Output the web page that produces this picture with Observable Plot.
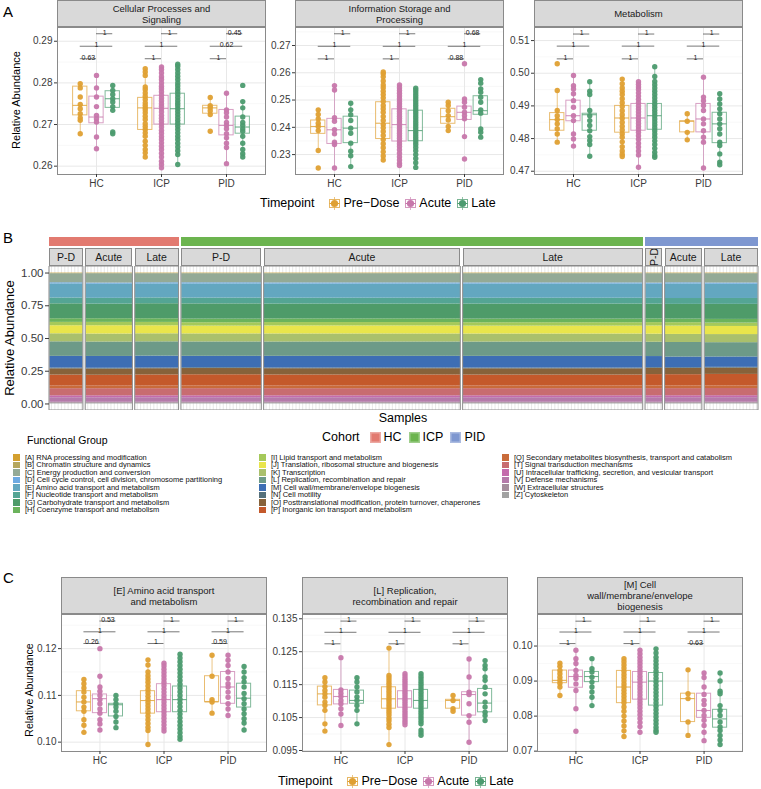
<!DOCTYPE html>
<html><head><meta charset="utf-8">
<script src="https://cdn.jsdelivr.net/npm/d3@7"></script>
<script src="https://cdn.jsdelivr.net/npm/@observablehq/plot@0.6"></script>
<style>
body{margin:0;background:#fff;font-family:"Liberation Sans",Arial,sans-serif;}
#root{position:relative;width:761px;height:789px;overflow:hidden;background:#fff;}
</style></head>
<body><div id="root"></div>
<script>
// ---------------- DATA ----------------
const cohorts = ["HC", "ICP", "PID"];
const timepoints = ["Pre\u2212Dose", "Acute", "Late"];
const timepointColors = ["#DFA033", "#C777AB", "#4C9B6F"];
const cohortColors = ["#E27A70", "#6CB44F", "#7E97D0"];

// Panel A
const titleA = [["Cellular Processes and", "Signaling"], ["Information Storage and", "Processing"], ["Metabolism"]];
// [lower whisker, Q1, median, Q3, upper whisker] in order HC(PD,Ac,La), ICP(...), PID(...)
const boxA1 = [[0.2678,0.2722,0.2746,0.2791,0.2799],[0.2642,0.2703,0.2718,0.2767,0.2818],[0.2734,0.2740,0.2762,0.2780,0.2794],
  [0.2622,0.2687,0.2740,0.2764,0.2834],[0.2596,0.2700,0.2739,0.2769,0.2842],[0.2604,0.2700,0.2738,0.2774,0.2847],
  [0.2722,0.2726,0.2740,0.2745,0.2766],[0.2606,0.2674,0.2698,0.2735,0.2775],[0.2622,0.2678,0.2694,0.2719,0.2758]];
const pointsA1 = [
  [0.2798,0.2788,0.2766,0.2748,0.2738,0.2726,0.2716,0.2710,0.2678],
  [0.2818,0.2788,0.2766,0.2743,0.2722,0.2714,0.2706,0.2670,0.2642],
  [0.2794,0.2782,0.2772,0.2762,0.2754,0.2743,0.2734,0.2682,0.2678],
  [0.2834,0.2826,0.2818,0.2790,0.2784,0.2776,0.2768,0.2760,0.2752,0.2746,0.2740,0.2735,0.2728,0.2720,0.2712,0.2702,0.2695,0.2688,0.2680,0.2672,0.2660,0.2650,0.2640,0.2632,0.2622],
  [0.2838,0.2832,0.2824,0.2815,0.2808,0.2800,0.2792,0.2786,0.2779,0.2771,0.2764,0.2757,0.2750,0.2744,0.2737,0.2730,0.2722,0.2715,0.2708,0.2701,0.2694,0.2686,0.2679,0.2671,0.2664,0.2656,0.2648,0.2640,0.2631,0.2622,0.2612,0.2604,0.2596],
  [0.2845,0.2840,0.2832,0.2824,0.2816,0.2808,0.2800,0.2793,0.2786,0.2779,0.2772,0.2765,0.2758,0.2751,0.2745,0.2738,0.2731,0.2724,0.2717,0.2710,0.2703,0.2696,0.2688,0.2680,0.2672,0.2664,0.2655,0.2646,0.2637,0.2628,0.2604],
  [0.2765,0.2745,0.2740,0.2733,0.2724,0.2684],
  [0.2775,0.2735,0.2728,0.2718,0.2705,0.2698,0.2690,0.2678,0.2668,0.2655,0.2645,0.2606],
  [0.2794,0.2755,0.2740,0.2718,0.2705,0.2698,0.2690,0.2684,0.2672,0.2655,0.2640,0.2630,0.2622]];
const bracketYA1 = [0.2858, 0.2888, 0.2918];
const bracketLabA1 = ["0.63","1","1","1","1","1","1","0.62","0.45"];
const yDomainA1 = [0.258, 0.2933];
const ticksA1 = [0.26,0.27,0.28,0.29];
const minorA1 = [0.265,0.275,0.285];

const boxA2 = [[0.2315,0.2376,0.2403,0.2425,0.2464],[0.2251,0.2339,0.2391,0.2431,0.2553],[0.2256,0.2342,0.2397,0.2439,0.2488],
  [0.2278,0.2357,0.2415,0.2492,0.2605],[0.2260,0.2348,0.2410,0.2466,0.2557],[0.2253,0.2349,0.2388,0.2461,0.2545],
  [0.2388,0.2413,0.2439,0.2468,0.2492],[0.2364,0.2427,0.2455,0.2476,0.2504],[0.2364,0.2446,0.2461,0.2514,0.2575]];
const pointsA2 = [
  [0.2464,0.2447,0.2431,0.2415,0.2403,0.2388,0.2315,0.2251],
  [0.2553,0.2537,0.2435,0.2422,0.2391,0.2376,0.2345,0.2337,0.2251],
  [0.2488,0.2464,0.2446,0.2425,0.2397,0.2378,0.2342,0.2312,0.2296,0.2256],
  [0.2603,0.2596,0.2585,0.2570,0.2555,0.2545,0.2532,0.2520,0.2508,0.2495,0.2480,0.2468,0.2455,0.2440,0.2425,0.2410,0.2398,0.2385,0.2370,0.2355,0.2340,0.2325,0.2310,0.2295,0.2280],
  [0.2555,0.2545,0.2535,0.2525,0.2515,0.2505,0.2495,0.2486,0.2477,0.2468,0.2459,0.2450,0.2441,0.2432,0.2423,0.2414,0.2405,0.2396,0.2387,0.2378,0.2369,0.2360,0.2350,0.2340,0.2330,0.2318,0.2305,0.2292,0.2280,0.2268,0.2260],
  [0.2543,0.2535,0.2526,0.2517,0.2508,0.2499,0.2490,0.2481,0.2472,0.2463,0.2454,0.2445,0.2436,0.2427,0.2418,0.2409,0.2400,0.2391,0.2382,0.2373,0.2364,0.2355,0.2346,0.2337,0.2326,0.2314,0.2300,0.2286,0.2270,0.2253],
  [0.2492,0.2480,0.2461,0.2443,0.2427,0.2403,0.2388],
  [0.2633,0.2504,0.2492,0.2474,0.2455,0.2443,0.2431,0.2366,0.2284],
  [0.2575,0.2562,0.2541,0.2529,0.2510,0.2492,0.2464,0.2452,0.2394,0.2382,0.2364]];
const bracketYA2 = [0.2651, 0.2697, 0.2743];
const bracketLabA2 = ["1","1","1","1","1","1","0.88","1","0.68"];
const yDomainA2 = [0.2227, 0.2766];
const ticksA2 = [0.23,0.24,0.25,0.26,0.27];
const minorA2 = [0.225,0.235,0.245,0.255,0.265,0.275];

const boxA3 = [[0.4789,0.4824,0.4858,0.4878,0.4947],[0.4777,0.4853,0.4870,0.4916,0.4993],[0.4746,0.4824,0.4873,0.4876,0.4974],
  [0.4745,0.4818,0.4863,0.4900,0.4983],[0.4712,0.4824,0.4863,0.4906,0.4974],[0.4743,0.4827,0.4870,0.4906,0.5021],
  [0.4796,0.4819,0.4853,0.4853,0.4876],[0.4710,0.4819,0.4860,0.4906,0.4988],[0.4722,0.4786,0.4845,0.4879,0.4937]];
const pointsA3 = [
  [0.5029,0.4947,0.4886,0.4870,0.4858,0.4845,0.4830,0.4814,0.4789],
  [0.4993,0.4962,0.4952,0.4937,0.4916,0.4896,0.4870,0.4855,0.4814,0.4799,0.4777],
  [0.4974,0.4945,0.4935,0.4886,0.4870,0.4855,0.4840,0.4824,0.4806,0.4794,0.4782,0.4746],
  [0.4982,0.4968,0.4955,0.4945,0.4935,0.4922,0.4910,0.4898,0.4885,0.4873,0.4862,0.4850,0.4838,0.4826,0.4815,0.4804,0.4790,0.4775,0.4762,0.4752,0.4745],
  [0.4974,0.4966,0.4958,0.4950,0.4940,0.4930,0.4920,0.4910,0.4900,0.4891,0.4882,0.4873,0.4864,0.4855,0.4846,0.4837,0.4828,0.4819,0.4809,0.4798,0.4786,0.4774,0.4762,0.4750,0.4712],
  [0.5020,0.4990,0.4975,0.4965,0.4955,0.4945,0.4935,0.4925,0.4915,0.4905,0.4896,0.4887,0.4878,0.4869,0.4860,0.4851,0.4842,0.4833,0.4824,0.4814,0.4804,0.4793,0.4782,0.4770,0.4758,0.4748,0.4743],
  [0.4876,0.4853,0.4819,0.4796],
  [0.4988,0.4927,0.4916,0.4901,0.4886,0.4860,0.4845,0.4824,0.4804,0.4789,0.4710],
  [0.4937,0.4921,0.4906,0.4891,0.4876,0.4860,0.4845,0.4830,0.4814,0.4789,0.4779,0.4753,0.4728,0.4720]];
const bracketYA3 = [0.5044, 0.5083, 0.5120];
const bracketLabA3 = ["1","1","1","1","1","1","1","1","1"];
const yDomainA3 = [0.469, 0.514];
const ticksA3 = [0.47,0.48,0.49,0.50,0.51];
const minorA3 = [0.475,0.485,0.495,0.505];

// Panel C
const titleC = [["[E] Amino acid transport", "and metabolism"], ["[L] Replication,", "recombination and repair"], ["[M] Cell", "wall/membrane/envelope", "biogenesis"]];
const boxC1 = [[0.1021,0.1066,0.1086,0.1109,0.1134],[0.1026,0.1062,0.1093,0.1102,0.1141],[0.1031,0.1055,0.1080,0.1082,0.1100],
  [0.0995,0.1061,0.1089,0.1109,0.1176],[0.1021,0.1064,0.1091,0.1124,0.1169],[0.1005,0.1064,0.1091,0.1119,0.1188],
  [0.1062,0.1086,0.1086,0.1141,0.1186],[0.1057,0.1082,0.1118,0.1150,0.1186],[0.1026,0.1074,0.1094,0.1125,0.1162]];
const pointsC1 = [
  [0.1134,0.1125,0.1116,0.1107,0.1096,0.1086,0.1075,0.1066,0.1048,0.1036,0.1021],
  [0.1200,0.1141,0.1118,0.1109,0.1100,0.1091,0.1082,0.1071,0.1062,0.1048,0.1039,0.1026],
  [0.1100,0.1091,0.1082,0.1075,0.1066,0.1055,0.1043,0.1031],
  [0.1176,0.1165,0.1150,0.1142,0.1135,0.1128,0.1120,0.1112,0.1105,0.1098,0.1091,0.1085,0.1078,0.1071,0.1064,0.1056,0.1048,0.1040,0.1032,0.1025,0.0995],
  [0.1169,0.1163,0.1156,0.1149,0.1142,0.1135,0.1128,0.1121,0.1114,0.1107,0.1100,0.1093,0.1086,0.1079,0.1072,0.1065,0.1058,0.1051,0.1044,0.1037,0.1030,0.1024],
  [0.1188,0.1180,0.1172,0.1164,0.1156,0.1148,0.1140,0.1132,0.1124,0.1116,0.1108,0.1100,0.1092,0.1084,0.1076,0.1068,0.1060,0.1052,0.1044,0.1036,0.1028,0.1020,0.1012,0.1006],
  [0.1186,0.1141,0.1091,0.1086,0.1062],
  [0.1186,0.1175,0.1164,0.1150,0.1136,0.1125,0.1118,0.1107,0.1096,0.1082,0.1071,0.1057],
  [0.1162,0.1150,0.1138,0.1129,0.1118,0.1104,0.1093,0.1082,0.1071,0.1061,0.1050,0.1041,0.1026]];
const bracketYC1 = [0.1211, 0.1236, 0.1259];
const bracketLabC1 = ["0.26","1","0.53","1","1","1","0.59","1","1"];
const yDomainC1 = [0.098, 0.1273];
const ticksC1 = [0.10,0.11,0.12];
const minorC1 = [0.105,0.115,0.125];

const boxC2 = [[0.1009,0.1087,0.1122,0.1144,0.1171],[0.1026,0.1090,0.1114,0.1134,0.1232],[0.1031,0.1092,0.1102,0.1132,0.1171],
  [0.0968,0.1077,0.1107,0.1142,0.1261],[0.1026,0.1080,0.1107,0.1130,0.1183],[0.0996,0.1077,0.1102,0.1134,0.1183],
  [0.1069,0.1077,0.1102,0.1104,0.1117],[0.0975,0.1056,0.1120,0.1127,0.1228],[0.1041,0.1066,0.1094,0.1137,0.1223]];
const pointsC2 = [
  [0.1171,0.1158,0.1144,0.1132,0.1122,0.1112,0.1097,0.1087,0.1072,0.1031,0.1009],
  [0.1232,0.1134,0.1124,0.1114,0.1102,0.1092,0.1077,0.1061,0.1026],
  [0.1171,0.1158,0.1143,0.1128,0.1113,0.1102,0.1087,0.1072,0.1031],
  [0.1261,0.1178,0.1170,0.1162,0.1154,0.1146,0.1138,0.1130,0.1122,0.1114,0.1106,0.1098,0.1090,0.1082,0.1074,0.1066,0.1058,0.1048,0.1040,0.1030,0.1020,0.0968],
  [0.1183,0.1176,0.1169,0.1162,0.1155,0.1148,0.1141,0.1134,0.1127,0.1120,0.1113,0.1106,0.1099,0.1092,0.1085,0.1078,0.1071,0.1064,0.1057,0.1050,0.1043,0.1036,0.1028],
  [0.1183,0.1175,0.1167,0.1159,0.1151,0.1143,0.1135,0.1127,0.1119,0.1111,0.1103,0.1095,0.1087,0.1079,0.1071,0.1063,0.1055,0.1047,0.1039,0.1031,0.1012,0.1004,0.0996],
  [0.1117,0.1102,0.1077,0.1069],
  [0.1228,0.1173,0.1127,0.1120,0.1092,0.1056,0.1036,0.0975],
  [0.1223,0.1208,0.1198,0.1173,0.1163,0.1142,0.1122,0.1097,0.1082,0.1066,0.1056,0.1041]];
const bracketYC2 = [0.1274, 0.1309, 0.1343];
const bracketLabC2 = ["1","1","1","1","1","1","1","1","1"];
const yDomainC2 = [0.0947, 0.1363];
const ticksC2 = [0.095,0.105,0.115,0.125,0.135];
const minorC2 = [0.100,0.110,0.120,0.130];

const boxC3 = [[0.0859,0.0894,0.0902,0.0930,0.0951],[0.0821,0.0881,0.0913,0.0930,0.0988],[0.0830,0.0897,0.0913,0.0926,0.0964],
  [0.0742,0.0837,0.0883,0.0929,0.0964],[0.0754,0.0847,0.0897,0.0926,0.0988],[0.0754,0.0830,0.0900,0.0923,0.0992],
  [0.0745,0.0783,0.0850,0.0864,0.0932],[0.0730,0.0795,0.0816,0.0864,0.0923],[0.0719,0.0767,0.0792,0.0818,0.0923]];
const pointsC3 = [
  [0.0951,0.0942,0.0930,0.0921,0.0911,0.0902,0.0894,0.0883,0.0859],
  [0.0988,0.0964,0.0950,0.0930,0.0916,0.0907,0.0892,0.0873,0.0821,0.0757],
  [0.0964,0.0935,0.0926,0.0911,0.0897,0.0883,0.0869,0.0854,0.0830],
  [0.0964,0.0955,0.0946,0.0937,0.0928,0.0919,0.0910,0.0901,0.0892,0.0883,0.0874,0.0865,0.0856,0.0847,0.0838,0.0826,0.0814,0.0800,0.0786,0.0772,0.0758,0.0742],
  [0.0988,0.0978,0.0968,0.0959,0.0950,0.0941,0.0932,0.0923,0.0914,0.0905,0.0896,0.0887,0.0878,0.0869,0.0860,0.0851,0.0842,0.0833,0.0824,0.0814,0.0804,0.0793,0.0782,0.0770,0.0754],
  [0.0992,0.0980,0.0968,0.0958,0.0948,0.0938,0.0928,0.0918,0.0908,0.0898,0.0888,0.0878,0.0868,0.0858,0.0848,0.0838,0.0828,0.0818,0.0808,0.0798,0.0788,0.0778,0.0768,0.0760,0.0754],
  [0.0932,0.0864,0.0850,0.0783,0.0745],
  [0.0923,0.0910,0.0883,0.0862,0.0845,0.0833,0.0816,0.0802,0.0788,0.0773,0.0754,0.0730],
  [0.0923,0.0900,0.0871,0.0864,0.0830,0.0816,0.0802,0.0783,0.0769,0.0759,0.0745,0.0732,0.0719]];
const bracketYC3 = [0.1007, 0.1040, 0.1071];
const bracketLabC3 = ["1","1","1","1","1","1","0.63","1","1"];
const yDomainC3 = [0.0699, 0.109];
const ticksC3 = [0.07,0.08,0.09,0.10];
const minorC3 = [0.075,0.085,0.095,0.105];

// Panel B
const bFacetLabels = ["P-D","Acute","Late","P-D","Acute","Late","P-D","Acute","Late"];
const bFacetCohort = [0,0,0,1,1,1,2,2,2];
const bSampleCounts = [10,14,13,24,59,54,5,11,16];
const groupCodes = ["A","B","C","D","E","F","G","H","I","J","K","L","M","N","O","P","Q","T","U","V","W","Z"];
const groupNames = ["[A] RNA processing and modification","[B] Chromatin structure and dynamics","[C] Energy production and conversion",
  "[D] Cell cycle control, cell division, chromosome partitioning","[E] Amino acid transport and metabolism","[F] Nucleotide transport and metabolism",
  "[G] Carbohydrate transport and metabolism","[H] Coenzyme transport and metabolism","[I] Lipid transport and metabolism",
  "[J] Translation, ribosomal structure and biogenesis","[K] Transcription","[L] Replication, recombination and repair",
  "[M] Cell wall/membrane/envelope biogenesis","[N] Cell motility","[O] Posttranslational modification, protein turnover, chaperones",
  "[P] Inorganic ion transport and metabolism","[Q] Secondary metabolites biosynthesis, transport and catabolism","[T] Signal transduction mechanisms",
  "[U] Intracellular trafficking, secretion, and vesicular transport","[V] Defense mechanisms","[W] Extracellular structures","[Z] Cytoskeleton"];
const groupColors = ["#D4A02F","#B5A75E","#94AA96","#6DAAE2","#63A7C0","#54A594","#4E9B69","#6BB35C","#A5C95A","#E9E54B","#AAC06C","#6D9A88",
  "#3D6EB4","#55707B","#87623A","#C4592B","#C96B3A","#C86C70","#C46BAC","#B57AAA","#A58F9D","#A2A2A2"];
// mean relative abundance per group, per facet (HC P-D, HC Acute, HC Late, ICP P-D, ICP Acute, ICP Late, PID P-D, PID Acute, PID Late)
const meanAbundance = [
  [0.002,0.002,0.002,0.002,0.002,0.002,0.002,0.002,0.002],
  [0.003,0.003,0.003,0.003,0.003,0.003,0.003,0.003,0.003],
  [0.070,0.072,0.070,0.070,0.071,0.071,0.072,0.070,0.071],
  [0.009,0.009,0.009,0.009,0.009,0.009,0.009,0.009,0.009],
  [0.1086,0.1093,0.1080,0.1089,0.1091,0.1091,0.1086,0.1118,0.1094],
  [0.045,0.045,0.045,0.045,0.045,0.045,0.045,0.045,0.045],
  [0.115,0.113,0.116,0.117,0.115,0.116,0.114,0.113,0.115],
  [0.028,0.028,0.028,0.028,0.028,0.028,0.028,0.028,0.028],
  [0.026,0.026,0.026,0.026,0.026,0.026,0.026,0.026,0.026],
  [0.062,0.064,0.062,0.060,0.062,0.061,0.063,0.064,0.062],
  [0.062,0.062,0.062,0.062,0.062,0.062,0.062,0.062,0.062],
  [0.1122,0.1114,0.1102,0.1107,0.1107,0.1102,0.1102,0.1120,0.1094],
  [0.0902,0.0913,0.0913,0.0883,0.0897,0.0900,0.0850,0.0816,0.0792],
  [0.006,0.006,0.006,0.006,0.006,0.006,0.006,0.006,0.006],
  [0.048,0.048,0.048,0.048,0.048,0.048,0.048,0.048,0.048],
  [0.085,0.084,0.086,0.087,0.086,0.085,0.088,0.087,0.088],
  [0.020,0.020,0.020,0.020,0.020,0.020,0.020,0.020,0.020],
  [0.055,0.055,0.055,0.055,0.055,0.055,0.055,0.055,0.055],
  [0.015,0.015,0.015,0.015,0.015,0.015,0.015,0.015,0.015],
  [0.035,0.035,0.035,0.035,0.035,0.035,0.035,0.035,0.035],
  [0.008,0.008,0.008,0.008,0.008,0.008,0.008,0.008,0.008],
  [0.005,0.005,0.005,0.005,0.005,0.005,0.005,0.005,0.005]];
const yDomainB = [-0.05, 1.05];
const ticksB = [0, 0.25, 0.5, 0.75, 1];

// ---------------- LAYOUT ----------------
const root = document.getElementById("root");
const FONT = '"Liberation Sans", Arial, sans-serif';
const DODGE = 0.25, HALF = 0.11;
function addDiv(style, html) {
  const d = document.createElement("div");
  d.style.cssText = "position:absolute;white-space:nowrap;" + style;
  d.innerHTML = html; root.appendChild(d); return d;
}
function strip(x1, x2, y1, y2, lines, fs, extra) {
  return addDiv(`left:${x1}px;top:${y1}px;width:${x2 - x1 + 1}px;height:${y2 - y1}px;background:#d9d9d9;border:1px solid #8a8a8a;box-sizing:border-box;display:flex;align-items:center;justify-content:center;text-align:center;font-size:${fs}px;line-height:${fs + 1.5}px;color:#1a1a1a;z-index:3;overflow:hidden;` + (extra || ""), lines.join("<br>"));
}
function yTitle(cx, cy, fs) {
  addDiv(`left:${cx}px;top:${cy}px;transform:translate(-50%,-50%) rotate(-90deg);font-size:${fs}px;color:#000;`, "Relative Abundance");
}

function drawFacet(cfg) {
  const [px1, px2] = cfg.px, [py1, py2] = cfg.py;
  const ML = 40, MR = 1, MB = 22;
  const boxRows = cfg.box.map((b, i) => ({tp: timepoints[i % 3], x: Math.floor(i / 3) + (i % 3 - 1) * DODGE, lo: b[0], q1: b[1], med: b[2], q3: b[3], hi: b[4]}));
  const ptRows = cfg.pts.flatMap((arr, i) => arr.map(v => ({tp: timepoints[i % 3], x: Math.floor(i / 3) + (i % 3 - 1) * DODGE, y: v})));
  const pairs = [[0, 1], [0, 2], [1, 2]];
  const brRows = cfg.brLab.map((lab, i) => {
    const c = Math.floor(i / 3), p = pairs[i % 3];
    return {x1: c + (p[0] - 1) * DODGE, x2: c + (p[1] - 1) * DODGE, y: cfg.brY[i % 3], label: lab};
  });
  const svg = Plot.plot({
    width: ML + (px2 - px1) + MR, height: (py2 - py1) + MB,
    marginLeft: ML, marginRight: MR, marginTop: 0, marginBottom: MB,
    x: {type: "linear", domain: [-0.6, 2.6]},
    y: {type: "linear", domain: cfg.domain},
    color: {domain: timepoints, range: timepointColors},
    style: {background: "transparent", fontFamily: FONT, fontSize: "10px", color: "#3a3a3a", maxWidth: "none"},
    marks: [
      Plot.gridY({ticks: cfg.minor, stroke: "#f3f3f3", strokeOpacity: 1, strokeWidth: 0.6}),
      Plot.gridY({ticks: cfg.ticks, stroke: "#e8e8e8", strokeOpacity: 1}),
      Plot.gridX({ticks: [0, 1, 2], stroke: "#e8e8e8", strokeOpacity: 1}),
      Plot.ruleX(boxRows, {x: "x", y1: "lo", y2: "q1", stroke: "tp", strokeOpacity: 0.6}),
      Plot.ruleX(boxRows, {x: "x", y1: "q3", y2: "hi", stroke: "tp", strokeOpacity: 0.6}),
      Plot.rect(boxRows, {x1: d => d.x - HALF, x2: d => d.x + HALF, y1: "q1", y2: "q3", stroke: "tp", strokeOpacity: 0.7, fill: "white", fillOpacity: 0.6}),
      Plot.ruleY(boxRows, {y: "med", x1: d => d.x - HALF, x2: d => d.x + HALF, stroke: "tp", strokeOpacity: 0.8, strokeWidth: 1.1}),
      Plot.dot(ptRows, {x: "x", y: "y", fill: "tp", r: 2.7, fillOpacity: 0.95}),
      Plot.ruleY(brRows, {y: "y", x1: "x1", x2: "x2", stroke: "#555", strokeWidth: 0.8}),
      Plot.text(brRows, {x: d => (d.x1 + d.x2) / 2, y: "y", text: "label", lineAnchor: "bottom", dy: 1, fontSize: 7, fill: "#222"}),
      Plot.frame({stroke: "#8a8a8a"}),
      Plot.axisY({ticks: cfg.ticks, tickFormat: d3.format(cfg.fmt), tickSize: 3, tickPadding: 2, label: null, fontSize: 10}),
      Plot.axisX({ticks: [0, 1, 2], tickFormat: i => cohorts[i], tickSize: 3, tickPadding: 2, label: null, fontSize: 10})
    ]
  });
  svg.style.position = "absolute";
  svg.style.left = (px1 - ML) + "px";
  svg.style.top = py1 + "px";
  root.appendChild(svg);
  strip(px1, px2, cfg.sy[0], cfg.sy[1], cfg.title, 9.5);
}

// Panel A
const pxA = [[57, 265], [295, 503], [534, 742]];
const cfgA = [
  {box: boxA1, pts: pointsA1, brY: bracketYA1, brLab: bracketLabA1, domain: yDomainA1, ticks: ticksA1, minor: minorA1, fmt: ".2f"},
  {box: boxA2, pts: pointsA2, brY: bracketYA2, brLab: bracketLabA2, domain: yDomainA2, ticks: ticksA2, minor: minorA2, fmt: ".2f"},
  {box: boxA3, pts: pointsA3, brY: bracketYA3, brLab: bracketLabA3, domain: yDomainA3, ticks: ticksA3, minor: minorA3, fmt: ".2f"}];
cfgA.forEach((c, i) => drawFacet({...c, title: titleA[i], px: pxA[i], py: [27, 174], sy: [0, 27]}));

// Panel C
const pxC = [[61, 266], [302, 507], [537, 742]];
const cfgC = [
  {box: boxC1, pts: pointsC1, brY: bracketYC1, brLab: bracketLabC1, domain: yDomainC1, ticks: ticksC1, minor: minorC1, fmt: ".2f"},
  {box: boxC2, pts: pointsC2, brY: bracketYC2, brLab: bracketLabC2, domain: yDomainC2, ticks: ticksC2, minor: minorC2, fmt: ".3f"},
  {box: boxC3, pts: pointsC3, brY: bracketYC3, brLab: bracketLabC3, domain: yDomainC3, ticks: ticksC3, minor: minorC3, fmt: ".2f"}];
cfgC.forEach((c, i) => drawFacet({...c, title: titleC[i], px: pxC[i], py: [614, 751], sy: [577, 614]}));

// Panel B
const GAP = 0.7;
const bStart = [], bEnd = [];
{ let s = 0; bSampleCounts.forEach(n => { bStart.push(s); bEnd.push(s + n + 0.2); s += n + 0.2 + GAP; }); }
const totalUnits = bEnd[bEnd.length - 1];
const bandRows = [], sampleRows = [], facetRows = [];
bSampleCounts.forEach((n, f) => {
  const vals = groupCodes.map((g, gi) => meanAbundance[gi][f]);
  const total = d3.sum(vals);
  let acc = 0;
  for (let gi = groupCodes.length - 1; gi >= 0; gi--) {
    const v = vals[gi] / total;
    bandRows.push({group: groupCodes[gi], x1: bStart[f] + 0.1, x2: bEnd[f] - 0.1, y1: acc, y2: acc + v});
    acc += v;
  }
  for (let k = 1; k <= n; k++) sampleRows.push({x: bStart[f] + k - 0.4});
  facetRows.push({x1: bStart[f], x2: bEnd[f]});
});
const BL = 49, BTop = 266, BH = 144;
const svgB = Plot.plot({
  width: 761, height: BH, marginLeft: BL, marginRight: 3, marginTop: 0, marginBottom: 0,
  x: {type: "linear", domain: [0, totalUnits], axis: null},
  y: {type: "linear", domain: yDomainB},
  color: {domain: groupCodes, range: groupColors},
  style: {background: "transparent", fontFamily: FONT, fontSize: "11.5px", color: "#3a3a3a", maxWidth: "none"},
  marks: [
    Plot.ruleX(sampleRows, {x: "x", stroke: "#e2e2e2", strokeWidth: 0.8}),
    Plot.rect(bandRows, {x1: "x1", x2: "x2", y1: "y1", y2: "y2", fill: "group"}),
    Plot.rect(facetRows, {x1: "x1", x2: "x2", y1: () => yDomainB[0], y2: () => yDomainB[1], fill: "none", stroke: "#8a8a8a"}),
    Plot.axisY({ticks: ticksB, tickFormat: d3.format(".2f"), tickSize: 4, tickPadding: 2, label: null, fontSize: 11.5})
  ]
});
svgB.style.position = "absolute"; svgB.style.left = "0px"; svgB.style.top = BTop + "px";
root.appendChild(svgB);
const xB = svgB.scale("x");
bSampleCounts.forEach((n, f) => {
  const x1 = xB.apply(bStart[f]), x2 = xB.apply(bEnd[f]);
  if (x2 - x1 < 22) {
    strip(x1, x2 - 1, 248, 266, [`<span style="display:inline-block;transform:rotate(-90deg)">${bFacetLabels[f]}</span>`], 10.5);
  } else {
    strip(x1, x2 - 1, 248, 266, [bFacetLabels[f]], 10.5);
  }
});
cohorts.forEach((c, ci) => {
  const idx = bFacetCohort.map((v, i) => v === ci ? i : -1).filter(i => i >= 0);
  const x1 = xB.apply(bStart[idx[0]]), x2 = xB.apply(bEnd[idx[idx.length - 1]]);
  addDiv(`left:${x1}px;top:237px;width:${x2 - x1}px;height:9px;background:${cohortColors[ci]};`, "");
});
addDiv(`left:403px;top:418px;transform:translate(-50%,-50%);font-size:12.5px;color:#000;`, "Samples");

// Titles
yTitle(16, 100, 11);
yTitle(9, 338, 13);
yTitle(29, 690, 10.5);
addDiv("left:3px;top:3px;font-size:15px;color:#000;", "A");
addDiv("left:3px;top:229px;font-size:15px;color:#000;", "B");
addDiv("left:3px;top:569px;font-size:15px;color:#000;", "C");

// Timepoint legends
function tpKey(col) {
  return `<svg width="13" height="13" style="display:block"><line x1="6.5" y1="0" x2="6.5" y2="13" stroke="${col}" stroke-opacity="0.6"/><rect x="1.5" y="2.5" width="10" height="8" fill="white" stroke="${col}" stroke-opacity="0.75"/><line x1="1.5" x2="11.5" y1="6.5" y2="6.5" stroke="${col}"/><circle cx="6.5" cy="6.5" r="3.6" fill="${col}"/></svg>`;
}
function tpLegend(left, cy) {
  const d = addDiv(`left:${left}px;top:${cy - 9}px;height:18px;display:flex;align-items:center;font-size:12.5px;color:#000;`, "");
  let h = `<span style="margin-right:14px">Timepoint</span>`;
  timepoints.forEach((t, i) => { h += `<span style="margin-right:2px">${tpKey(timepointColors[i])}</span><span style="margin-right:5px">${t}</span>`; });
  d.innerHTML = h;
}
tpLegend(260, 203);
tpLegend(278, 781);

// Cohort legend
{
  const d = addDiv(`left:322px;top:428px;height:18px;display:flex;align-items:center;font-size:12.5px;color:#000;`, "");
  let h = `<span style="margin-right:10px">Cohort</span>`;
  cohorts.forEach((c, i) => { h += `<span style="display:inline-block;width:11px;height:11px;background:${cohortColors[i]};margin-right:3px;box-shadow:inset 0 0 0 1.5px rgba(255,255,255,0.35)"></span><span style="margin-right:7px">${c}</span>`; });
  d.innerHTML = h;
}

// Functional group legend
addDiv("left:27px;top:434px;font-size:10.5px;color:#000;", "Functional Group");
{
  const colX = [13, 259, 502], perCol = [8, 8, 6];
  let gi = 0;
  colX.forEach((cx, c) => {
    for (let r = 0; r < perCol[c]; r++, gi++) {
      addDiv(`left:${cx}px;top:${454 + r * 7.45}px;height:7.45px;display:flex;align-items:center;font-size:7.5px;line-height:7.4px;color:#111;`,
        `<span style="display:inline-block;width:7px;height:6.6px;background:${groupColors[gi]};margin-right:5px"></span>${groupNames[gi]}`);
    }
  });
}
</script>
</body></html>
